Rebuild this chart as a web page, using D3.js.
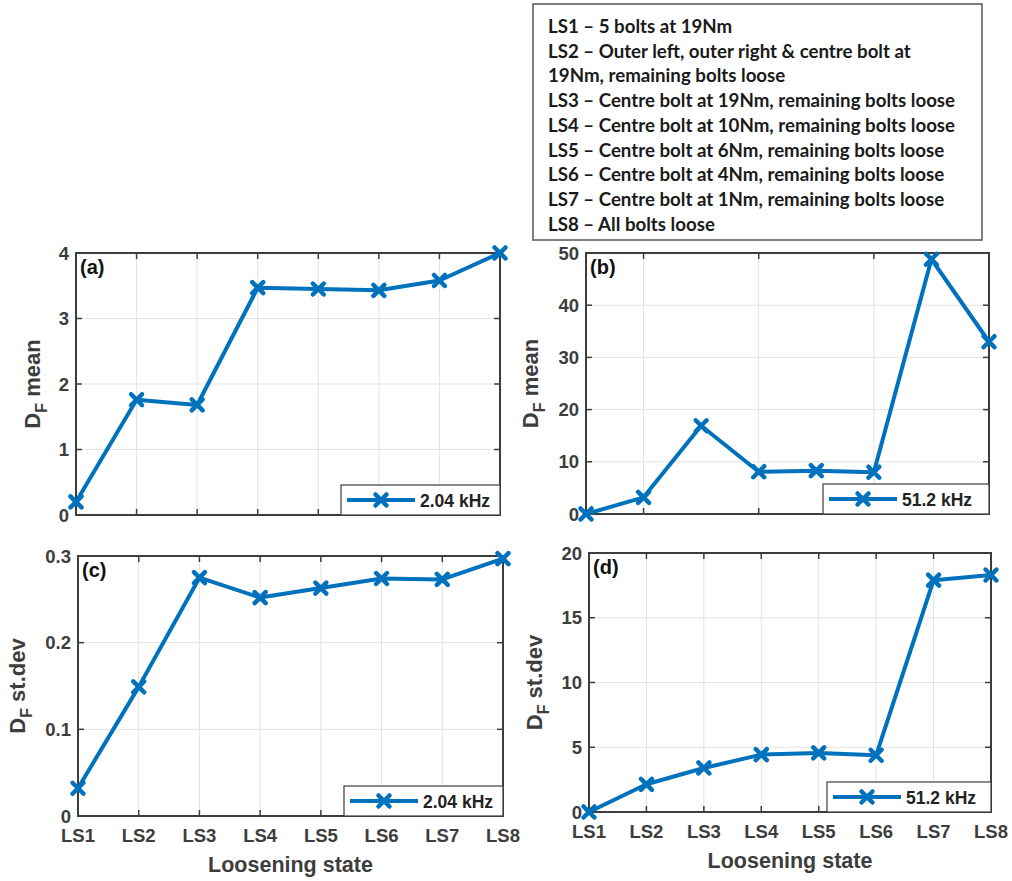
<!DOCTYPE html>
<html>
<head>
<meta charset="utf-8">
<script src="https://cdn.jsdelivr.net/npm/d3@7"></script>
<style>
  body { margin: 0; background: #fff; }
  svg { display: block; }
</style>
</head>
<body>
<svg id="chart" width="1012" height="881"></svg>
<script>
// Loosening states and measured values
var states = ["LS1", "LS2", "LS3", "LS4", "LS5", "LS6", "LS7", "LS8"];

var meanLow = [0.20, 1.76, 1.68, 3.47, 3.45, 3.43, 3.58, 4.00];
var meanHigh = [0.0, 3.2, 16.9, 8.1, 8.3, 8.0, 48.8, 33.0];
var stdLow = [0.032, 0.149, 0.275, 0.252, 0.263, 0.274, 0.273, 0.297];
var stdHigh = [0.0, 2.14, 3.4, 4.43, 4.56, 4.38, 17.9, 18.3];

var yTicksA = [0, 1, 2, 3, 4];
var yTicksB = [0, 10, 20, 30, 40, 50];
var yTicksC = [0, 0.1, 0.2, 0.3];
var yTicksD = [0, 5, 10, 15, 20];

var legendLines = [
	"LS1 \u2013 5 bolts at 19Nm",
	"LS2 \u2013 Outer left, outer right & centre bolt at",
	"19Nm, remaining bolts loose",
	"LS3 \u2013 Centre bolt at 19Nm, remaining bolts loose",
	"LS4 \u2013 Centre bolt at 10Nm, remaining bolts loose",
	"LS5 \u2013 Centre bolt at 6Nm, remaining bolts loose",
	"LS6 \u2013 Centre bolt at 4Nm, remaining bolts loose",
	"LS7 \u2013 Centre bolt at 1Nm, remaining bolts loose",
	"LS8 \u2013 All bolts loose"
];

var blue = "#0072BD";
var axisColor = "#3d3d3d";
var font = "'Liberation Sans', Arial, sans-serif";

var svg = d3.select("#chart");

// Draw one panel
function drawPanel(p) {
	var x = d3.scalePoint().domain(states).range([p.x0, p.x1]);
	var y = d3.scaleLinear().domain([0, d3.max(p.ticks)]).range([p.y1, p.y0]);

	var g = svg.append("g");

	// grid
	g.selectAll(".hgrid")
		.data(p.ticks)
		.enter()
		.append("line")
		.attr("x1", p.x0).attr("x2", p.x1)
		.attr("y1", d => y(d)).attr("y2", d => y(d))
		.style("stroke", "#e3e3e3")
		.style("stroke-width", 1);

	g.selectAll(".vgrid")
		.data(p.xGrid)
		.enter()
		.append("line")
		.attr("x1", d => x(d)).attr("x2", d => x(d))
		.attr("y1", p.y0).attr("y2", p.y1)
		.style("stroke", "#e3e3e3")
		.style("stroke-width", 1);

	// inner ticks on all four sides
	var tl = 6;
	p.ticks.forEach(function(t){
		g.append("line").attr("x1", p.x0).attr("x2", p.x0 + tl)
			.attr("y1", y(t)).attr("y2", y(t))
			.style("stroke", axisColor).style("stroke-width", 1.5);
		g.append("line").attr("x1", p.x1).attr("x2", p.x1 - tl)
			.attr("y1", y(t)).attr("y2", y(t))
			.style("stroke", axisColor).style("stroke-width", 1.5);
	});
	p.xGrid.forEach(function(s){
		g.append("line").attr("x1", x(s)).attr("x2", x(s))
			.attr("y1", p.y1).attr("y2", p.y1 - tl)
			.style("stroke", axisColor).style("stroke-width", 1.5);
		g.append("line").attr("x1", x(s)).attr("x2", x(s))
			.attr("y1", p.y0).attr("y2", p.y0 + tl)
			.style("stroke", axisColor).style("stroke-width", 1.5);
	});

	// box
	g.append("rect")
		.attr("x", p.x0).attr("y", p.y0)
		.attr("width", p.x1 - p.x0).attr("height", p.y1 - p.y0)
		.style("fill", "none")
		.style("stroke", axisColor)
		.style("stroke-width", 2);

	// y tick labels
	g.selectAll(".ylab")
		.data(p.ticks)
		.enter()
		.append("text")
		.attr("x", p.x0 - 7)
		.attr("y", d => y(d) + 6.5)
		.style("text-anchor", "end")
		.style("font-family", font)
		.style("font-weight", "bold")
		.style("font-size", "18.5px")
		.style("fill", axisColor)
		.text(d => d);

	// x tick labels
	if (p.xLabels) {
		g.selectAll(".xlab")
			.data(states)
			.enter()
			.append("text")
			.attr("x", d => x(d))
			.attr("y", p.y1 + 26)
			.style("text-anchor", "middle")
			.style("font-family", font)
			.style("font-weight", "bold")
			.style("font-size", "18.5px")
			.style("fill", axisColor)
			.text(d => d);

		g.append("text")
			.attr("x", (p.x0 + p.x1) / 2)
			.attr("y", p.y1 + 56)
			.style("text-anchor", "middle")
			.style("font-family", font)
			.style("font-weight", "bold")
			.style("font-size", "21.5px")
			.style("fill", axisColor)
			.text("Loosening state");
	}

	// y axis label with subscript
	var yl = g.append("text")
		.attr("transform", "translate(" + p.ylx + "," + ((p.y0 + p.y1) / 2) + ") rotate(-90)")
		.style("text-anchor", "middle")
		.style("font-family", font)
		.style("font-weight", "bold")
		.style("font-size", "22px")
		.style("fill", axisColor);
	yl.append("tspan").text("D");
	yl.append("tspan").attr("dy", 7).style("font-size", "16px").text("F");
	yl.append("tspan").attr("dy", -7).text(" " + p.yName);

	// line
	var line = d3.line()
		.x((d, i) => x(states[i]))
		.y(d => y(d));

	g.append("path")
		.datum(p.values)
		.attr("d", line)
		.style("fill", "none")
		.style("stroke", blue)
		.style("stroke-width", 4)
		.style("stroke-linejoin", "round");

	drawMarkers(g, p.values.map((v, i) => [x(states[i]), y(v)]));

	// panel letter
	g.append("text")
		.attr("x", p.x0 + 4)
		.attr("y", p.y0 + 21)
		.style("font-family", font)
		.style("font-weight", "bold")
		.style("font-size", "20px")
		.style("fill", "#111")
		.text(p.letter);

	// legend
	var lw = p.legW, lh = 30;
	var lx = p.x1 - lw, ly = p.y1 - lh;
	g.append("rect")
		.attr("x", lx).attr("y", ly)
		.attr("width", lw).attr("height", lh)
		.style("fill", "#fff")
		.style("stroke", axisColor)
		.style("stroke-width", 1.2);
	g.append("line")
		.attr("x1", lx + 6).attr("x2", lx + 74)
		.attr("y1", ly + lh / 2).attr("y2", ly + lh / 2)
		.style("stroke", blue)
		.style("stroke-width", 4);
	drawMarkers(g, [[lx + 40, ly + lh / 2]]);
	g.append("text")
		.attr("x", lx + 79)
		.attr("y", ly + lh / 2 + 6.5)
		.style("font-family", font)
		.style("font-weight", "bold")
		.style("font-size", "17.5px")
		.style("fill", "#222")
		.text(p.legend);
}

function drawMarkers(g, pts) {
	var s = 5.5;
	pts.forEach(function(pt){
		g.append("path")
			.attr("d", "M" + (pt[0] - s) + "," + (pt[1] - s) + "L" + (pt[0] + s) + "," + (pt[1] + s) +
				"M" + (pt[0] - s) + "," + (pt[1] + s) + "L" + (pt[0] + s) + "," + (pt[1] - s))
			.style("stroke", blue)
			.style("stroke-width", 4.5)
			.style("stroke-linecap", "round");
	});
}

drawPanel({ x0: 76, x1: 500, y0: 253, y1: 515, ticks: yTicksA, values: meanLow,
	xGrid: states, xLabels: false, ylx: 40, yName: "mean", letter: "(a)",
	legend: "2.04 kHz", legW: 159 });

drawPanel({ x0: 586, x1: 989, y0: 253, y1: 514, ticks: yTicksB, values: meanHigh,
	xGrid: ["LS2", "LS4", "LS6", "LS8"], xLabels: false, ylx: 538, yName: "mean", letter: "(b)",
	legend: "51.2 kHz", legW: 166 });

drawPanel({ x0: 78, x1: 503, y0: 556, y1: 816, ticks: yTicksC, values: stdLow,
	xGrid: states, xLabels: true, ylx: 25, yName: "st.dev", letter: "(c)",
	legend: "2.04 kHz", legW: 159 });

drawPanel({ x0: 589, x1: 991, y0: 553, y1: 812, ticks: yTicksD, values: stdHigh,
	xGrid: states, xLabels: true, ylx: 542, yName: "st.dev", letter: "(d)",
	legend: "51.2 kHz", legW: 164 });

// description box
var box = svg.append("g");
box.append("rect")
	.attr("x", 533).attr("y", 4)
	.attr("width", 449).attr("height", 236)
	.style("fill", "#fff")
	.style("stroke", "#555")
	.style("stroke-width", 1.5);

box.selectAll("text")
	.data(legendLines)
	.enter()
	.append("text")
	.attr("x", 548)
	.attr("y", (d, i) => 33 + i * 24.7)
	.style("font-family", "Lato, 'Open Sans', sans-serif")
	.style("font-weight", "bold")
	.style("font-size", "18.7px")
	.style("fill", "#1a1a1a")
	.text(d => d);
</script>
</body>
</html>
